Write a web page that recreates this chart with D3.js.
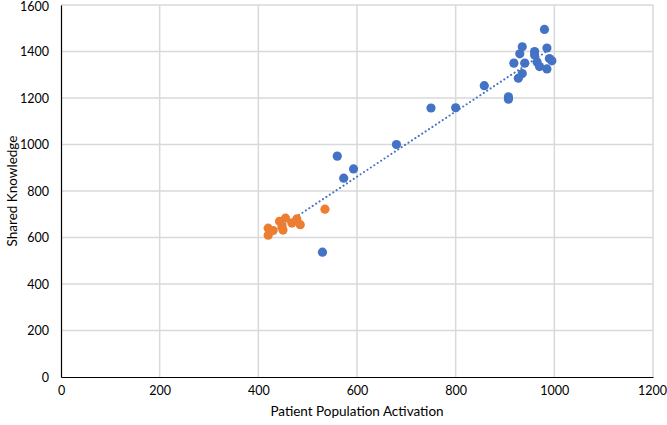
<!DOCTYPE html>
<html><head><meta charset="utf-8">
<script src="https://cdn.jsdelivr.net/npm/d3@7"></script>
<style>html,body{margin:0;padding:0;background:#fff;} text{font-family:Lato,"Open Sans",sans-serif;}</style>
</head><body><svg id="c" width="667" height="425"></svg>
<script>
const blueX = [980,935,985,930,960,960,918,940,965,990,995,970,985,935,927,858,907,907,800,750,680,593,573,560,530];
const blueY = [1495,1420,1415,1390,1400,1385,1350,1350,1355,1370,1360,1335,1325,1305,1285,1253,1205,1195,1158,1157,1000,895,855,950,537];
const orangeX = [420,420,430,443,448,450,455,468,478,485,535];
const orangeY = [640,610,630,670,648,632,683,662,680,655,722];
const xTicks = [0,200,400,600,800,1000,1200];
const yTicks = [0,200,400,600,800,1000,1200,1400,1600];
const xTitle = "Patient Population Activation";
const yTitle = "Shared Knowledge";

const svg = d3.select("#c");
const x = d3.scaleLinear().domain([0,1200]).range([61,653]);
const y = d3.scaleLinear().domain([0,1600]).range([377,5]);
const fmt = d3.format("d");

// gridlines
svg.append("g").selectAll("line.h").data(yTicks.filter(d=>d>0)).join("line")
  .attr("x1",x(0)).attr("x2",x(1200)).attr("y1",d=>y(d)).attr("y2",d=>y(d))
  .attr("stroke","#d9d9d9").attr("stroke-width",1.5);
svg.append("g").selectAll("line.v").data(xTicks.filter(d=>d>0)).join("line")
  .attr("y1",y(0)).attr("y2",y(1600)).attr("x1",d=>x(d)).attr("x2",d=>x(d))
  .attr("stroke","#d9d9d9").attr("stroke-width",1.5);

// axes
const xa = svg.append("g").attr("transform",`translate(0,${y(0)})`)
  .call(d3.axisBottom(x).tickValues(xTicks).tickFormat(fmt).tickSize(0).tickPadding(9));
xa.select(".domain").attr("stroke","#000").attr("stroke-width",1.2);
xa.selectAll("text").attr("font-size",12.5).attr("fill","#000").attr("font-family","Lato, 'Open Sans', sans-serif");
xa.selectAll(".tick").filter(d=>d===1200).select("text").attr("dx",-1);
const ya = svg.append("g").attr("transform",`translate(${x(0)},0)`)
  .call(d3.axisLeft(y).tickValues(yTicks).tickFormat(fmt).tickSize(0).tickPadding(12));
ya.select(".domain").attr("stroke","#000").attr("stroke-width",1.2);
ya.selectAll("text").attr("font-size",12.5).attr("fill","#000").attr("font-family","Lato, 'Open Sans', sans-serif");
ya.selectAll(".tick").filter(d=>d===1600).select("text").attr("dy","0.45em");

// trendline: least squares over all points
const allX = blueX.concat(orangeX), allY = blueY.concat(orangeY);
const n = allX.length, mx = d3.mean(allX), my = d3.mean(allY);
let sxy=0,sxx=0; for(let i=0;i<n;i++){sxy+=(allX[i]-mx)*(allY[i]-my); sxx+=(allX[i]-mx)**2;}
const b = sxy/sxx, a = my-b*mx;
const [x0,x1] = d3.extent(allX);
svg.append("line").attr("x1",x(x0)).attr("y1",y(a+b*x0)).attr("x2",x(x1)).attr("y2",y(a+b*x1))
  .attr("stroke","#4472C4").attr("stroke-width",2).attr("stroke-dasharray","0.1,4").attr("stroke-linecap","round");

// points
svg.append("g").selectAll("circle").data(blueX.map((d,i)=>[d,blueY[i]])).join("circle")
  .attr("cx",d=>x(d[0])).attr("cy",d=>y(d[1])).attr("r",4.6).attr("fill","#4472C4");
svg.append("g").selectAll("circle").data(orangeX.map((d,i)=>[d,orangeY[i]])).join("circle")
  .attr("cx",d=>x(d[0])).attr("cy",d=>y(d[1])).attr("r",4.6).attr("fill","#ED7D31");

// titles
svg.append("text").attr("x",357).attr("y",416).attr("text-anchor","middle").attr("font-size",13.5).text(xTitle);
svg.append("text").attr("transform","translate(17,191) rotate(-90)").attr("text-anchor","middle").attr("font-size",13.5).text(yTitle);
</script></body></html>
